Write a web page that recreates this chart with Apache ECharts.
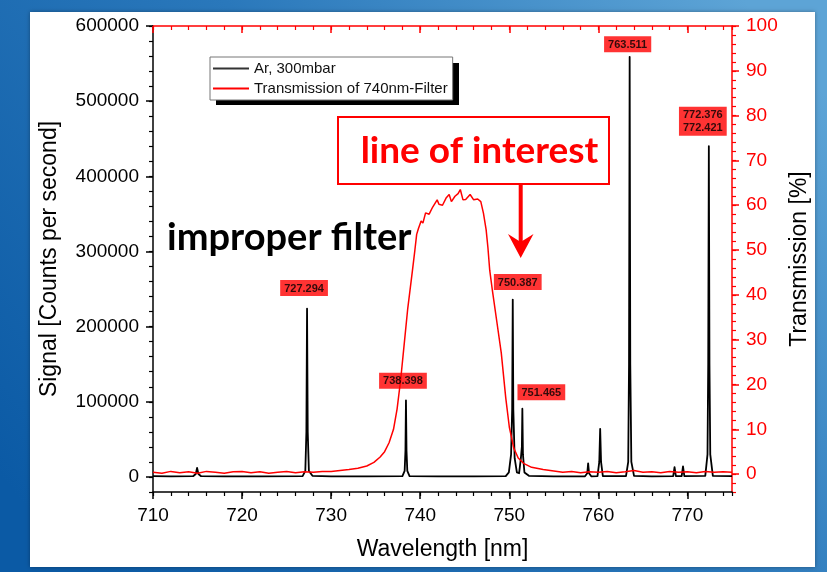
<!DOCTYPE html>
<html>
<head>
<meta charset="utf-8">
<script src="https://cdn.jsdelivr.net/npm/echarts@6/dist/echarts.min.js"></script>
<style>
  html, body { margin: 0; padding: 0; background: #fff; }
  #main { width: 827px; height: 572px; }
</style>
</head>
<body>
<div id="main"></div>
<script>
// Axis tick values
const wavelengthTicks = [710, 720, 730, 740, 750, 760, 770];
const countTicks = [0, 100000, 200000, 300000, 400000, 500000, 600000];
const transmissionTicks = [0, 10, 20, 30, 40, 50, 60, 70, 80, 90, 100];

// Identified Ar lines: label text, wavelength [nm], peak signal [counts/s]
const lineLabels = ['727.294', '738.398', '750.387', '751.465', '763.511', '772.376\n772.421'];
const lineNm = [727.294, 738.398, 750.387, 751.465, 763.511, 772.4];
const linePeakCounts = [224000, 102000, 236000, 90800, 559000, 440000];

// Weaker, unlabelled lines
const minorLineNm = [714.95, 758.85, 760.2, 768.55, 769.5];
const minorLineCounts = [12000, 18000, 64000, 13000, 14000];

// Baseline and line wings of the Ar spectrum [nm, counts/s]
const signalWings = [
  [710, 1000], [712, 900], [714.5, 1000], [714.8, 4000], [715.1, 4000], [715.4, 1000],
  [718, 800], [722, 900], [726.8, 1000], [727.1, 8000], [727.22, 60000], [727.37, 60000],
  [727.5, 8000], [727.9, 1500], [730, 900], [734, 800], [738.0, 1000], [738.25, 8000],
  [738.34, 35000], [738.46, 35000], [738.55, 8000], [738.8, 1000], [742, 900], [746, 800],
  [749.6, 1200], [749.95, 6000], [750.2, 30000], [750.32, 90000], [750.45, 90000],
  [750.6, 25000], [750.85, 6000], [751.1, 5000], [751.3, 25000], [751.41, 40000],
  [751.53, 30000], [751.7, 6000], [752.2, 1500], [755, 900], [758.5, 900], [758.75, 5000],
  [758.95, 5000], [759.2, 900], [759.9, 1000], [760.1, 20000], [760.3, 20000], [760.5, 1000],
  [763.1, 1000], [763.35, 20000], [763.44, 150000], [763.58, 150000], [763.7, 20000],
  [764.0, 1500], [766, 900], [768.4, 1000], [768.7, 1000], [769.35, 1000], [769.65, 1000],
  [772.0, 1500], [772.25, 30000], [772.33, 150000], [772.47, 150000], [772.56, 30000],
  [772.85, 1500], [775, 1000]
];

// Filter transmission curve [nm, %]
const transmission = [
  [710, 0.4], [711, 0.2], [712, 0.6], [713, 0.3], [714, 0.5], [715, 0.2], [716, 0.6],
  [717, 0.4], [718, 0.2], [719, 0.5], [720, 0.6], [721, 0.3], [722, 0.5], [723, 0.2],
  [724, 0.4], [725, 0.6], [726, 0.3], [727, 0.5], [728, 0.4], [729, 0.6], [730, 0.6],
  [731, 0.8], [732, 1.0], [733, 1.3], [734, 1.8], [734.8, 2.6], [735.5, 3.8], [736.0, 5.0],
  [736.5, 7.0], [737.0, 10.0], [737.4, 14.5], [737.8, 21], [738.2, 29], [738.6, 37],
  [739.1, 45], [739.4, 50], [739.6, 53.5], [739.8, 54.8], [740.1, 56.5], [740.3, 56],
  [740.6, 58.3], [741.0, 58], [741.4, 59.6], [741.9, 61.2], [742.1, 60.2], [742.5, 60],
  [742.9, 61.6], [743.25, 62.4], [743.5, 60.8], [743.9, 62], [744.25, 62.6], [744.5, 63.5],
  [744.8, 61.2], [745.1, 61.3], [745.6, 62.4], [746.0, 61.2], [746.45, 61.4], [746.8, 60.8],
  [747.1, 58.2], [747.4, 54.5], [747.6, 50.5], [747.8, 45.5], [748.1, 41], [748.6, 34],
  [749.1, 27], [749.6, 17], [750.0, 10.5], [750.5, 5.8], [751.0, 3.6], [751.6, 2.4],
  [752.5, 1.5], [753.8, 1.0], [755, 0.7], [756, 0.4], [757, 0.6], [758, 0.3], [759, 0.5],
  [760, 0.4], [761, 0.6], [762, 0.3], [763, 0.5], [764, 0.8], [765, 0.4], [766, 0.5],
  [767, 0.3], [768, 0.6], [769, 0.4], [770, 0.5], [771, 0.3], [772, 0.6], [773, 0.4],
  [774, 0.5], [775, 0.4]
];

// Label placement for each identified line: gap above the peak, horizontal shift
const labelGap = [12, 11, 9, 8, 4, 10];
const labelShift = [-3, -3, 5, 19, -2, -6];

// Full spectrum = wings + line peaks, sorted by wavelength
const signal = signalWings
  .concat(lineNm.map((x, i) => [x, linePeakCounts[i]]))
  .concat(minorLineNm.map((x, i) => [x, minorLineCounts[i]]))
  .sort((a, b) => a[0] - b[0]);

const FONT = "'Liberation Sans', Arial, sans-serif";
const RED = '#ff0000';

// Legend box geometry (the drop shadow is drawn as a separate rectangle)
const LEGEND_BOX = { x: 210, y: 57, width: 243, height: 42 };

const chart = echarts.init(document.getElementById('main'), null, { renderer: 'canvas' });

function hiddenAxisParts() {
  return { axisLabel: { show: false }, splitLine: { show: false } };
}

const option = {
  animation: false,
  grid: { left: 153, right: 95, top: 26, bottom: 80, containLabel: false },
  legend: {
    z: 8,
    orient: 'vertical',
    left: LEGEND_BOX.x, top: LEGEND_BOX.y,
    padding: [3, 5, 3, 3],
    itemGap: 3,
    icon: 'rect',
    itemWidth: 36, itemHeight: 2,
    backgroundColor: '#fff',
    borderColor: '#777', borderWidth: 1,
    textStyle: { fontFamily: FONT, fontSize: 15, lineHeight: 17, color: '#111' },
    data: ['Ar, 300mbar', 'Transmission of 740nm-Filter']
  },
  xAxis: [
    Object.assign({
      type: 'value', position: 'bottom', min: 710, max: 775,
      axisLine: { show: true, onZero: false, lineStyle: { color: '#000', width: 1.5 } },
      axisTick: { show: true, customValues: wavelengthTicks, length: 7, lineStyle: { color: '#000', width: 1.5 } },
      name: 'Wavelength [nm]', nameLocation: 'middle', nameGap: 46,
      nameTextStyle: { fontFamily: FONT, fontSize: 23, color: '#000' }
    }, hiddenAxisParts(), {
      axisLabel: { show: true, customValues: wavelengthTicks, fontFamily: FONT, fontSize: 19, color: '#000', margin: 14 }
    }),
    Object.assign({
      type: 'value', position: 'bottom', min: 710, max: 775, interval: 2,
      axisLine: { show: false, onZero: false },
      axisTick: { show: true, length: 4, lineStyle: { color: '#000', width: 1.2 } }
    }, hiddenAxisParts()),
    Object.assign({
      type: 'value', position: 'top', min: 710, max: 775,
      axisLine: { show: true, onZero: false, lineStyle: { color: RED, width: 1.5 } },
      axisTick: { show: true, inside: true, customValues: wavelengthTicks, length: 7, lineStyle: { color: RED, width: 1.5 } }
    }, hiddenAxisParts()),
    Object.assign({
      type: 'value', position: 'top', min: 710, max: 775, interval: 2,
      axisLine: { show: false, onZero: false },
      axisTick: { show: true, inside: true, length: 4, lineStyle: { color: RED, width: 1.2 } }
    }, hiddenAxisParts())
  ],
  yAxis: [
    Object.assign({
      type: 'value', position: 'left', min: -20000, max: 600000,
      axisLine: { show: true, onZero: false, lineStyle: { color: '#000', width: 1.5 } },
      axisTick: { show: true, customValues: countTicks, length: 7, lineStyle: { color: '#000', width: 1.5 } },
      name: 'Signal [Counts per second]', nameLocation: 'middle', nameGap: 92, nameRotate: 90,
      nameTextStyle: { fontFamily: FONT, fontSize: 23, color: '#000' }
    }, hiddenAxisParts(), {
      axisLabel: {
        show: true, customValues: countTicks, fontFamily: FONT, fontSize: 19, color: '#000', margin: 14,
        formatter: v => String(v)
      }
    }),
    Object.assign({
      type: 'value', position: 'left', min: -20000, max: 600000, interval: 20000,
      axisLine: { show: false, onZero: false },
      axisTick: { show: true, length: 4, lineStyle: { color: '#000', width: 1.2 } }
    }, hiddenAxisParts()),
    Object.assign({
      type: 'value', position: 'right', min: -4, max: 100,
      axisLine: { show: true, onZero: false, lineStyle: { color: RED, width: 1.5 } },
      axisTick: { show: true, customValues: transmissionTicks, length: 7, lineStyle: { color: RED, width: 1.5 } },
      name: 'Transmission [%]', nameLocation: 'middle', nameGap: 56, nameRotate: 90,
      nameTextStyle: { fontFamily: FONT, fontSize: 23, color: '#000' }
    }, hiddenAxisParts(), {
      axisLabel: { show: true, customValues: transmissionTicks, fontFamily: FONT, fontSize: 19, color: RED, margin: 14 }
    }),
    Object.assign({
      type: 'value', position: 'right', min: -4, max: 100, interval: 2,
      axisLine: { show: false, onZero: false },
      axisTick: { show: true, length: 4, lineStyle: { color: RED, width: 1.2 } }
    }, hiddenAxisParts())
  ],
  series: [
    {
      name: 'Ar, 300mbar', type: 'line', xAxisIndex: 0, yAxisIndex: 0,
      data: signal, symbol: 'none', z: 3,
      lineStyle: { color: '#000', width: 1.8, join: 'round' },
      itemStyle: { color: '#333' }
    },
    {
      name: 'Transmission of 740nm-Filter', type: 'line', xAxisIndex: 0, yAxisIndex: 2,
      data: transmission, symbol: 'none', z: 4,
      lineStyle: { color: RED, width: 1.5 },
      itemStyle: { color: RED }
    },
    {
      name: 'line labels', type: 'scatter', xAxisIndex: 0, yAxisIndex: 0, z: 6,
      symbol: 'circle', symbolSize: 1,
      itemStyle: { color: 'rgba(0,0,0,0)' },
      silent: true,
      label: {
        show: true, position: 'top',
        formatter: p => p.name,
        backgroundColor: RED, color: '#000',
        fontFamily: FONT, fontWeight: 'bold', fontSize: 11, lineHeight: 13,
        padding: [2, 4, 1, 4]
      },
      data: lineLabels.map((t, i) => ({
        name: t,
        value: [lineNm[i], linePeakCounts[i]],
        label: { distance: labelGap[i], offset: [labelShift[i], 0] }
      }))
    }
  ],
  graphic: [
    {
      type: 'rect', z: -20, silent: true,
      shape: { x: 0, y: 0, width: 827, height: 572 },
      style: {
        fill: new echarts.graphic.LinearGradient(0.9, 0, 0.1, 1, [
          { offset: 0, color: '#5da4d6' },
          { offset: 0.45, color: '#2a78bb' },
          { offset: 1, color: '#0b5aa5' }
        ])
      }
    },
    {
      type: 'rect', z: -19, silent: true,
      shape: { x: 30, y: 12, width: 785, height: 555 },
      style: { fill: '#fff', shadowBlur: 4, shadowColor: 'rgba(0,0,0,0.35)' }
    },
    {
      // legend drop shadow
      type: 'rect', z: 7, silent: true,
      shape: { x: LEGEND_BOX.x + 6, y: LEGEND_BOX.y + 6, width: LEGEND_BOX.width, height: LEGEND_BOX.height },
      style: { fill: '#000' }
    },
    {
      type: 'text', z: 10, silent: true,
      x: 167, y: 238,
      style: {
        text: 'improper filter', fill: '#000',
        fontFamily: 'Lato, sans-serif', fontWeight: 'bold', fontSize: 38,
        align: 'left', verticalAlign: 'middle'
      }
    },
    {
      type: 'rect', z: 10, silent: true,
      shape: { x: 338, y: 117, width: 271, height: 67 },
      style: { fill: 'rgba(0,0,0,0)', stroke: RED, lineWidth: 2 }
    },
    {
      type: 'text', z: 10, silent: true,
      x: 479.5, y: 151,
      style: {
        text: 'line of interest', fill: RED,
        fontFamily: 'Lato, sans-serif', fontWeight: 'bold', fontSize: 37,
        align: 'center', verticalAlign: 'middle'
      }
    },
    {
      type: 'line', z: 10, silent: true,
      shape: { x1: 520.7, y1: 184, x2: 520.7, y2: 244 },
      style: { stroke: RED, lineWidth: 4 }
    },
    {
      type: 'polygon', z: 10, silent: true,
      shape: { points: [[508, 234], [520.7, 258], [533.5, 234], [520.7, 242]] },
      style: { fill: RED }
    }
  ]
};

chart.setOption(option);
</script>
</body>
</html>
